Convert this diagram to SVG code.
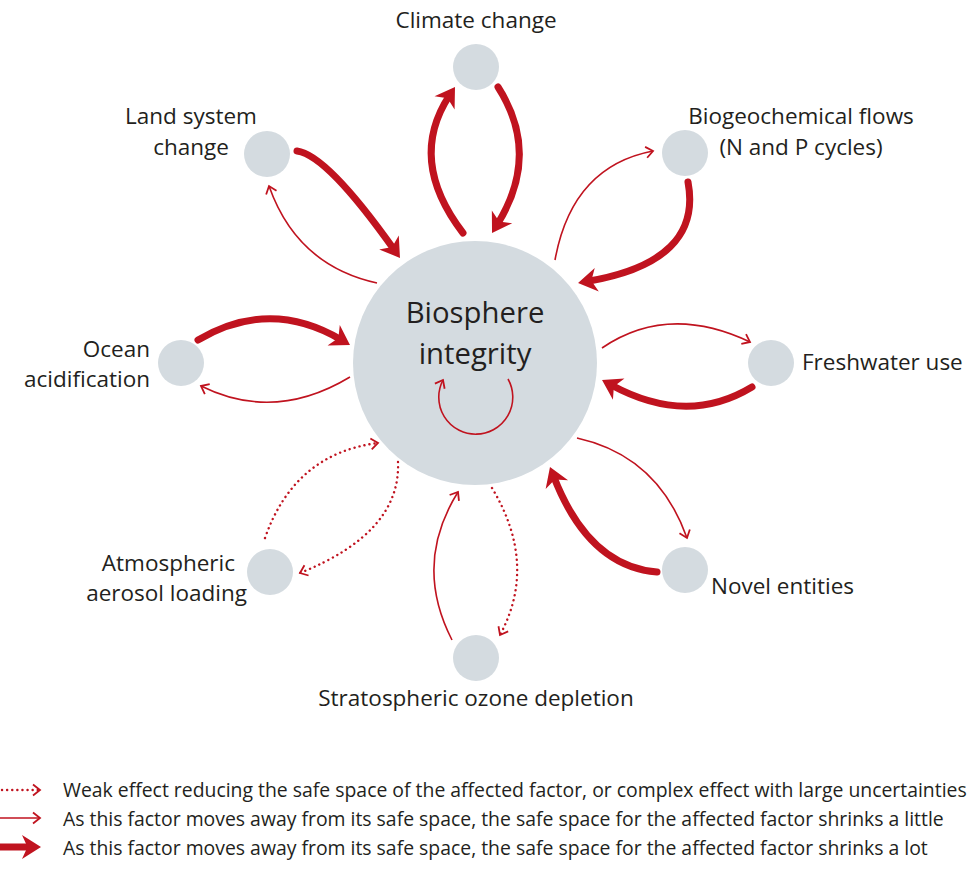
<svg xmlns="http://www.w3.org/2000/svg" width="977" height="878" viewBox="0 0 977 878">
<defs>
<marker id="thin" markerUnits="userSpaceOnUse" markerWidth="20" markerHeight="20" viewBox="-10 -10 20 20" refX="0" refY="0" orient="auto">
<path d="M-7,-5.5 L0,0 L-7,5.5" fill="none" stroke="#c0131f" stroke-width="1.8" stroke-linejoin="miter"/>
</marker>
<marker id="thick" markerUnits="userSpaceOnUse" markerWidth="32" markerHeight="32" viewBox="-16 -16 32 32" refX="0" refY="0" orient="auto">
<path d="M-9,-12 L10,0 L-9,12 L-3.5,0 Z" fill="#c0131f"/>
</marker>
</defs>
<style>
.bg{fill:#ffffff}
.node{fill:#d4dbe0}
.lbl{font-family:"Open Sans","Noto Sans","Liberation Sans",sans-serif;font-size:22.5px;fill:#231f20}
.big{font-family:"Open Sans","Noto Sans","Liberation Sans",sans-serif;font-size:29.3px;fill:#231f20}
.leg{font-family:"Open Sans","Noto Sans","Liberation Sans",sans-serif;font-size:19.4px;fill:#231f20}
.thin{fill:none;stroke:#c0131f;stroke-width:1.6;marker-end:url(#thin)}
.thick{fill:none;stroke:#c0131f;stroke-width:7;stroke-linecap:round;marker-end:url(#thick)}
.dot{fill:none;stroke:#c0131f;stroke-width:2.4;stroke-linecap:round;stroke-dasharray:0.1 5;marker-end:url(#thin)}
</style>
<rect class="bg" x="0" y="0" width="977" height="878"/>

<g id="biosphere">
<circle class="node" cx="475" cy="363" r="122"/>
<text class="big" x="475" y="323" text-anchor="middle">Biosphere</text>
<text class="big" x="475" y="364" text-anchor="middle">integrity</text>
</g>
<g id="climate">
<circle class="node" cx="476" cy="67" r="23"/>
<text class="lbl" x="476" y="28" text-anchor="middle">Climate change</text>
</g>
<g id="land">
<circle class="node" cx="267" cy="154" r="23"/>
<text class="lbl" x="191" y="124" text-anchor="middle">Land system</text>
<text class="lbl" x="191" y="155" text-anchor="middle">change</text>
</g>
<g id="biogeo">
<circle class="node" cx="685" cy="153" r="23"/>
<text class="lbl" x="801" y="124" text-anchor="middle">Biogeochemical flows</text>
<text class="lbl" x="801" y="155" text-anchor="middle">(N and P cycles)</text>
</g>
<g id="ocean">
<circle class="node" cx="181" cy="363" r="23"/>
<text class="lbl" x="150" y="357" text-anchor="end">Ocean</text>
<text class="lbl" x="150" y="387" text-anchor="end">acidification</text>
</g>
<g id="freshwater">
<circle class="node" cx="771" cy="363" r="23"/>
<text class="lbl" x="802" y="370">Freshwater use</text>
</g>
<g id="aerosol">
<circle class="node" cx="270" cy="572" r="23"/>
<text class="lbl" x="235" y="571" text-anchor="end">Atmospheric</text>
<text class="lbl" x="247" y="601" text-anchor="end">aerosol loading</text>
</g>
<g id="ozone">
<circle class="node" cx="476" cy="658" r="23"/>
<text class="lbl" x="476" y="706" text-anchor="middle">Stratospheric ozone depletion</text>
</g>
<g id="novel">
<circle class="node" cx="685" cy="570" r="23"/>
<text class="lbl" x="711" y="594">Novel entities</text>
</g>

<g id="connectors">
<path class="thick" d="M463,233 Q407,160 449.5,95.4"/>
<path class="thick" d="M498,87 Q541,154 497.3,224.5"/>
<path class="thick" d="M297,151 Q327,155 394.2,249.8"/>
<path class="thin" d="M377,283 Q297,265.5 269,186"/>
<path class="thin" d="M555,260 Q572,166.5 653,151"/>
<path class="thick" d="M688,182 Q703,261.5 587.9,281.3"/>
<path class="thick" d="M198,340 Q270,297.5 341.4,339.9"/>
<path class="thin" d="M350,377 Q274.5,422.5 201,386"/>
<path class="thin" d="M602,348 Q668,303 750,342"/>
<path class="thick" d="M752,387 Q687,426.5 610.8,384.8"/>
<path class="dot" d="M265,538 Q294.5,453.5 378,443"/>
<path class="dot" d="M398,462 Q401,532.5 300,573"/>
<path class="thin" d="M452,640 Q413,564 458,492"/>
<path class="dot" d="M492,488 Q538,564.5 500,635"/>
<path class="thin" d="M577,438 Q658,456 687,538"/>
<path class="thick" d="M657,572 Q588.5,566.5 553.6,476.3"/>
<path class="thin" d="M508,379 A37,37 0 1 1 443,380"/>
</g>

<g id="legend">
<path class="dot" d="M2,790 L40,790"/>
<path class="thin" d="M0,818 L40,818"/>
<path class="thick" d="M0,847 L31,847"/>
<text class="leg" x="63" y="797">Weak effect reducing the safe space of the affected factor, or complex effect with large uncertainties</text>
<text class="leg" x="63" y="826">As this factor moves away from its safe space, the safe space for the affected factor shrinks a little</text>
<text class="leg" x="63" y="855">As this factor moves away from its safe space, the safe space for the affected factor shrinks a lot</text>
</g>
</svg>
